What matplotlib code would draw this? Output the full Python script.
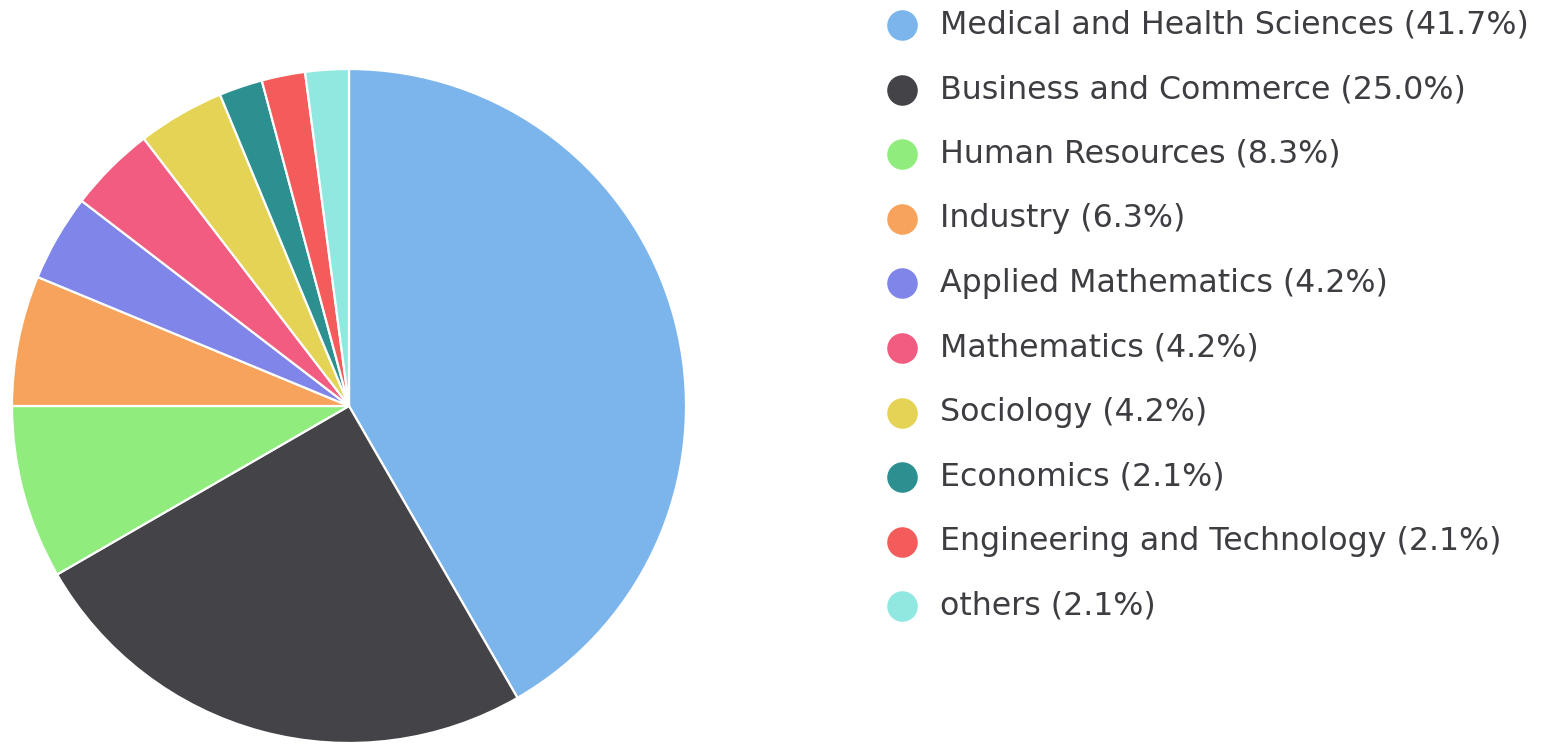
import matplotlib
matplotlib.use("Agg")
import matplotlib.pyplot as plt

categories = ["Medical and Health Sciences", "Business and Commerce", "Human Resources",
              "Industry", "Applied Mathematics", "Mathematics", "Sociology",
              "Economics", "Engineering and Technology", "others"]
counts = [20, 12, 4, 3, 2, 2, 2, 1, 1, 1]
percent_labels = ["41.7%", "25.0%", "8.3%", "6.3%", "4.2%", "4.2%", "4.2%", "2.1%", "2.1%", "2.1%"]
colors = ["#7cb5ec", "#434348", "#90ed7d", "#f7a35c", "#8085e9",
          "#f15c80", "#e4d354", "#2b908f", "#f45b5b", "#91e8e1"]

W, H = 1546, 744
fig = plt.figure(figsize=(W / 100, H / 100), dpi=100)
ax = fig.add_axes([0, 0, 1, 1])

cx, cy, r = 349, H - 406, 337
ax.pie(counts, colors=colors, startangle=90, counterclock=False,
       center=(cx, cy), radius=r, frame=True,
       wedgeprops=dict(edgecolor="white", linewidth=1.6))
ax.set_xlim(0, W)
ax.set_ylim(0, H)
ax.set_aspect("equal")
ax.axis("off")

y0 = H - 25
step = 64.6
for i, (cat, pct, col) in enumerate(zip(categories, percent_labels, colors)):
    y = y0 - i * step
    ax.plot([902], [y], marker="o", markersize=22, color=col, markeredgewidth=0)
    ax.text(940, y, f"{cat} ({pct})", fontsize=22.8, color="#3d3d42",
            va="center", ha="left", family="DejaVu Sans")

fig.savefig("out.png", dpi=100, facecolor="white")
